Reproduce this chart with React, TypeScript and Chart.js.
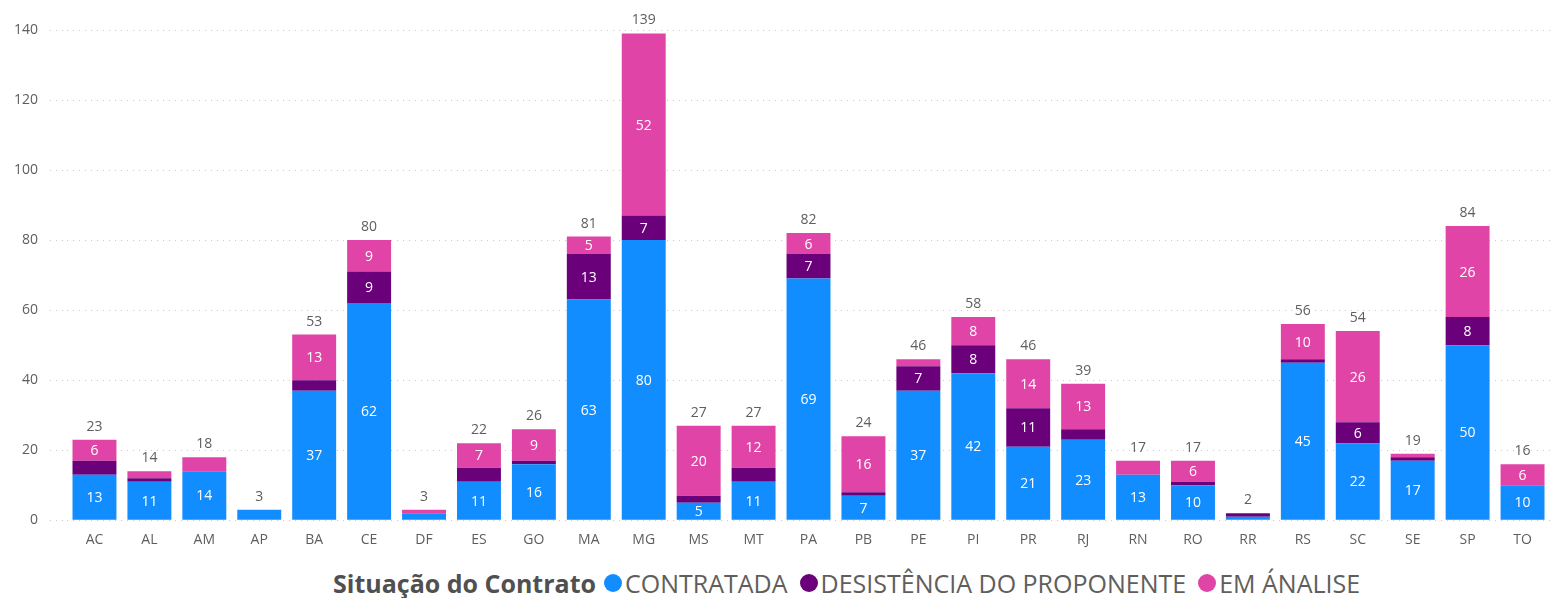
import React, { useEffect, useRef } from "react";
import { Chart, registerables } from "chart.js";

Chart.register(...registerables);

const categories = ["AC","AL","AM","AP","BA","CE","DF","ES","GO","MA","MG","MS","MT","PA","PB","PE","PI","PR","RJ","RN","RO","RR","RS","SC","SE","SP","TO"];
const contratada = [13,11,14,3,37,62,2,11,16,63,80,5,11,69,7,37,42,21,23,13,10,1,45,22,17,50,10];
const desistencia = [4,1,0,0,3,9,0,4,1,13,7,2,4,7,1,7,8,11,3,0,1,1,1,6,1,8,0];
const emAnalise = [6,2,4,0,13,9,1,7,9,5,52,20,12,6,16,2,8,14,13,4,6,0,10,26,1,26,6];
const seriesNames = ["CONTRATADA","DESISTÊNCIA DO PROPONENTE","EM ÁNALISE"];
const seriesColors = ["#118DFF","#6B007B","#E044A7"];
const yTicks = [0,20,40,60,80,100,120,140];
const legendTitle = "Situação do Contrato";

const FONT = "'Open Sans', 'Noto Sans', sans-serif";

const labelPlugin = {
  id: "labels",
  afterDatasetsDraw(chart: any) {
    const ctx = chart.ctx;
    ctx.save();
    ctx.textAlign = "center";
    const n = chart.data.labels.length;
    chart.data.datasets.forEach((ds: any, di: number) => {
      const meta = chart.getDatasetMeta(di);
      meta.data.forEach((bar: any, i: number) => {
        const v = ds.data[i];
        if (v >= 5) {
          ctx.fillStyle = "#FFFFFF";
          ctx.font = `14px ${FONT}`;
          ctx.textBaseline = "middle";
          ctx.fillText(String(v), bar.x, (bar.y + bar.base) / 2 + 1);
        }
      });
    });
    for (let i = 0; i < n; i++) {
      let total = 0;
      let top = Infinity;
      let x = 0;
      chart.data.datasets.forEach((ds: any, di: number) => {
        total += ds.data[i];
        const bar = chart.getDatasetMeta(di).data[i];
        x = bar.x;
        top = Math.min(top, bar.y);
      });
      ctx.fillStyle = "#605E5C";
      ctx.font = `14px ${FONT}`;
      ctx.textBaseline = "bottom";
      ctx.fillText(String(total), x, top - 6);
    }
    ctx.restore();
  },
};

export default function App() {
  const ref = useRef<HTMLCanvasElement>(null);
  useEffect(() => {
    if (!ref.current) return;
    const data = [contratada, desistencia, emAnalise];
    const chart = new Chart(ref.current, {
      type: "bar",
      data: {
        labels: categories,
        datasets: data.map((d, k) => ({
          label: seriesNames[k],
          data: d,
          backgroundColor: seriesColors[k],
          borderWidth: 0,
          barPercentage: 0.8,
          categoryPercentage: 1,
        })),
      },
      options: {
        animation: false,
        responsive: false,
        maintainAspectRatio: false,
        layout: { padding: { top: 30, left: 2, right: 10, bottom: 0 } },
        plugins: { legend: { display: false }, tooltip: { enabled: false } },
        scales: {
          x: {
            stacked: true,
            grid: { display: false },
            border: { display: false },
            ticks: { color: "#605E5C", font: { family: FONT, size: 14 }, padding: 3 },
          },
          y: {
            stacked: true,
            min: 0,
            max: 140,
            afterBuildTicks: (axis: any) => {
              axis.ticks = yTicks.map((v) => ({ value: v }));
            },
            border: { display: false, dash: [1, 5] },
            grid: {
              color: "#C8C8C8",
              tickLength: 17,
              tickColor: "#C8C8C8",
              tickBorderDash: [1, 5],
              lineWidth: 1,
            },
            ticks: { color: "#605E5C", font: { family: FONT, size: 14 }, padding: 12 },
          },
        },
      },
      plugins: [labelPlugin],
    });
    return () => chart.destroy();
  }, []);

  return (
    <div style={{ position: "absolute", left: 0, top: 0, width: 1560, height: 598, background: "#fff" }}>
      <canvas ref={ref} width={1560} height={551} style={{ display: "block", width: 1560, height: 551 }} />
      <div
        style={{
          position: "absolute",
          left: 333,
          top: 565,
          height: 36,
          display: "flex",
          alignItems: "center",
          fontFamily: FONT,
          fontSize: 25,
          color: "#605E5C",
          whiteSpace: "nowrap",
        }}
      >
        <span style={{ fontWeight: 700, fontSize: 25, color: "#505050", marginRight: 8 }}>{legendTitle}</span>
        {seriesNames.map((name, k) => (
          <span key={name} style={{ display: "inline-flex", alignItems: "center", marginRight: 12 }}>
            <span
              style={{
                display: "inline-block",
                width: 18,
                height: 18,
                borderRadius: 9,
                background: seriesColors[k],
                marginRight: 3,
              }}
            />
            <span>{name}</span>
          </span>
        ))}
      </div>
    </div>
  );
}
